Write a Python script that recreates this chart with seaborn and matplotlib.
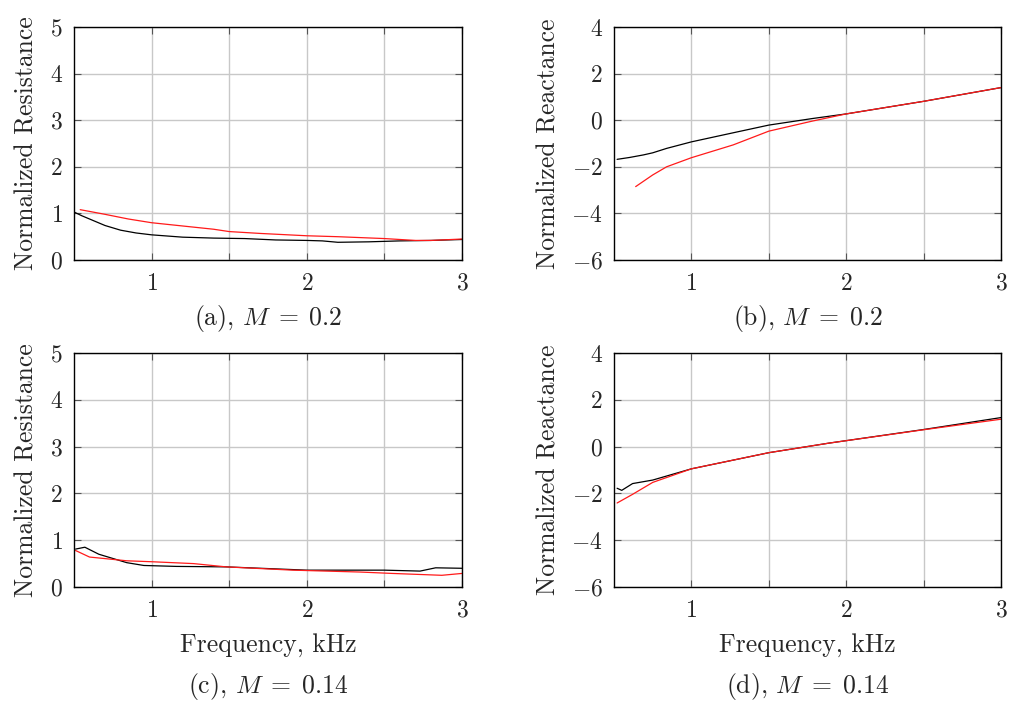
import numpy as np
import pandas as pd
import matplotlib
matplotlib.use("Agg")
import matplotlib.pyplot as plt
import seaborn as sns

# ---- data ----
a_black_f = [0.50, 0.55, 0.60, 0.70, 0.80, 0.90, 1.00, 1.20, 1.40, 1.60, 1.80, 2.00, 2.10, 2.20, 2.40, 2.60, 2.80, 3.00]
a_black_r = [1.03, 0.95, 0.88, 0.74, 0.64, 0.58, 0.54, 0.49, 0.47, 0.46, 0.43, 0.42, 0.41, 0.38, 0.39, 0.41, 0.42, 0.44]
a_red_f = [0.54, 0.70, 0.85, 1.00, 1.20, 1.40, 1.50, 1.70, 2.00, 2.20, 2.50, 2.70, 2.80, 3.00]
a_red_r = [1.08, 0.98, 0.88, 0.80, 0.73, 0.66, 0.61, 0.57, 0.52, 0.50, 0.46, 0.42, 0.42, 0.45]

b_black_f = [0.52, 0.60, 0.69, 0.75, 0.84, 1.00, 1.27, 1.50, 1.78, 2.00, 2.50, 3.00]
b_black_x = [-1.68, -1.60, -1.49, -1.40, -1.21, -0.93, -0.54, -0.21, 0.07, 0.27, 0.81, 1.40]
b_red_f = [0.64, 0.75, 0.84, 1.00, 1.27, 1.50, 1.78, 2.00, 2.50, 3.00]
b_red_x = [-2.85, -2.35, -2.00, -1.61, -1.06, -0.47, -0.04, 0.27, 0.81, 1.40]

c_black_f = [0.51, 0.57, 0.66, 0.84, 0.95, 1.16, 1.48, 2.00, 2.50, 2.73, 2.83, 3.00]
c_black_r = [0.81, 0.85, 0.70, 0.52, 0.46, 0.44, 0.43, 0.36, 0.36, 0.34, 0.41, 0.40]
c_red_f = [0.51, 0.60, 0.84, 1.00, 1.27, 1.48, 1.91, 2.34, 2.55, 2.87, 3.00]
c_red_r = [0.78, 0.64, 0.56, 0.54, 0.50, 0.43, 0.36, 0.32, 0.29, 0.25, 0.29]

d_black_f = [0.52, 0.55, 0.62, 0.75, 1.00, 1.50, 1.89, 2.50, 3.00]
d_black_x = [-1.78, -1.87, -1.58, -1.43, -0.95, -0.26, 0.15, 0.73, 1.24]
d_red_f = [0.52, 0.62, 0.75, 1.00, 1.50, 1.89, 2.50, 3.00]
d_red_x = [-2.41, -2.04, -1.53, -0.95, -0.26, 0.15, 0.72, 1.17]

x_ticks = [1, 2, 3]
x_minor = [1.5, 2.5]
res_ticks = [0, 1, 2, 3, 4, 5]
rea_ticks = [-6, -4, -2, 0, 2, 4]
captions = [r"(a), $M\;=\;0.2$", r"(b), $M\;=\;0.2$", r"(c), $M\;=\;0.14$", r"(d), $M\;=\;0.14$"]
ylabels = ["Normalized Resistance", "Normalized Reactance",
           "Normalized Resistance", "Normalized Reactance"]
xlabel = "Frequency, kHz"

sns.set_style("ticks")
plt.rcParams["font.family"] = ["cmr10", "DejaVu Serif"]
plt.rcParams["mathtext.fontset"] = "cm"
plt.rcParams["axes.formatter.use_mathtext"] = True
plt.rcParams["axes.unicode_minus"] = True

W, H = 1011, 704
fig = plt.figure(figsize=(W / 100, H / 100), dpi=100)

def px_axes(l, t, r, b):
    return fig.add_axes([l / W, 1 - b / H, (r - l) / W, (b - t) / H])

boxes = [(74, 27, 462, 260), (614, 27, 1001, 260),
         (74, 353, 462, 587), (614, 353, 1001, 587)]

panels = [
    (a_black_f, a_black_r, a_red_f, a_red_r, res_ticks),
    (b_black_f, b_black_x, b_red_f, b_red_x, rea_ticks),
    (c_black_f, c_black_r, c_red_f, c_red_r, res_ticks),
    (d_black_f, d_black_x, d_red_f, d_red_x, rea_ticks),
]

FS_TICK = 17
FS_LAB = 18.5

for i, (box, (bf, bv, rf, rv, yt)) in enumerate(zip(boxes, panels)):
    ax = px_axes(*box)
    df = pd.concat([
        pd.DataFrame({"f": bf, "v": bv, "s": "black"}),
        pd.DataFrame({"f": rf, "v": rv, "s": "red"}),
    ])
    sns.lineplot(data=df, x="f", y="v", hue="s", palette={"black": "#000000", "red": "#ff1a1a"},
                 ax=ax, legend=False, linewidth=0.9, sort=False, estimator=None)
    ax.set_xlim(0.5, 3)
    ax.set_ylim(yt[0], yt[-1])
    ax.set_xticks(x_ticks)
    ax.set_xticks(x_minor, minor=True)
    ax.set_yticks(yt)
    ax.grid(True, which="both", color="#c8c8c8", linewidth=1.0)
    ax.set_axisbelow(True)
    ax.tick_params(which="both", direction="in", length=5, width=0.8, top=True, right=True,
                   labelsize=FS_TICK, color="#555555")
    ax.tick_params(axis="x", pad=9)
    ax.tick_params(axis="y", pad=8)
    for sp in ax.spines.values():
        sp.set_linewidth(1.0)
        sp.set_color("black")
    ax.set_ylabel(ylabels[i], fontsize=FS_LAB, labelpad=8)
    if i >= 2:
        ax.set_xlabel(xlabel, fontsize=FS_LAB, labelpad=8)
    else:
        ax.set_xlabel("")
    cx = (box[0] + box[2]) / 2
    cy = 318 if i < 2 else 687
    fig.text(cx / W, 1 - cy / H, captions[i], ha="center", va="center", fontsize=FS_LAB)

fig.savefig("out.png", dpi=100)
